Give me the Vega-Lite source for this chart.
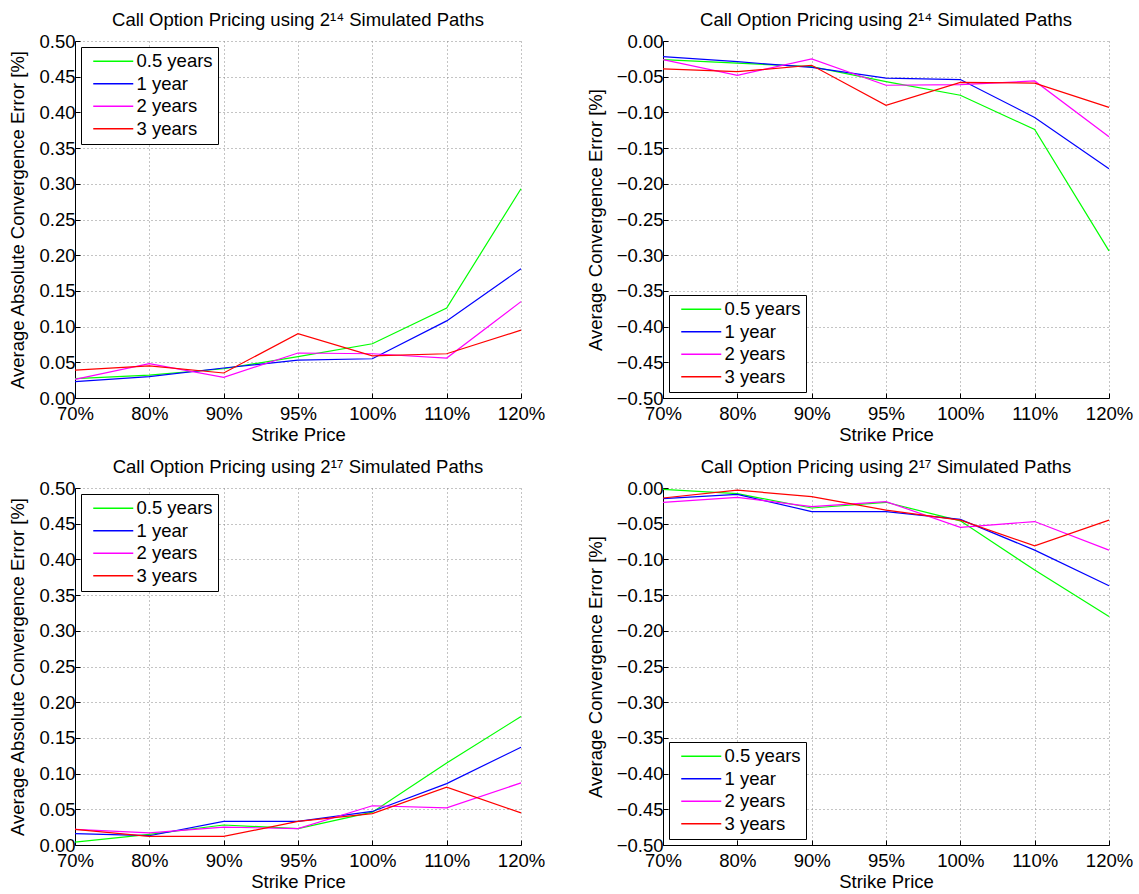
{
  "$schema": "https://vega.github.io/schema/vega-lite/v6.json",
  "padding": {"left": 8, "top": 10, "right": 5, "bottom": 5},
  "config": {
    "font": "Liberation Sans",
    "view": {"stroke": null},
    "axis": {"domainColor": "black", "domainWidth": 1, "tickColor": "black", "labelColor": "black", "titleColor": "black", "labelFontSize": 18.5, "titleFontSize": 18.5, "titleFontWeight": "normal", "grid": true, "gridColor": "#888", "gridDash": [1, 3], "tickSize": -5},
    "axisY": {"titlePadding": 11, "labelPadding": 5},
    "axisX": {"titlePadding": 3, "labelPadding": 11, "labelAngle": 0},
    "title": {"fontSize": 18.5, "fontWeight": "normal", "color": "black", "offset": 3},
    "legend": {"title": null, "strokeColor": "black", "fillColor": "white", "padding": 5, "offset": 6, "labelFontSize": 18.5, "labelColor": "black", "symbolType": "M-0.4,0H7.6", "symbolSize": 100, "symbolStrokeWidth": 1.5, "labelOffset": 32, "rowPadding": 3.5}
  },
  "data": {"values": [
    {"p":"TL","k":"70%","s":"0.5 years","v":0.027},{"p":"TL","k":"80%","s":"0.5 years","v":0.032},{"p":"TL","k":"90%","s":"0.5 years","v":0.041},{"p":"TL","k":"95%","s":"0.5 years","v":0.058},{"p":"TL","k":"100%","s":"0.5 years","v":0.076},{"p":"TL","k":"110%","s":"0.5 years","v":0.126},{"p":"TL","k":"120%","s":"0.5 years","v":0.293},
    {"p":"TL","k":"70%","s":"1 year","v":0.023},{"p":"TL","k":"80%","s":"1 year","v":0.030},{"p":"TL","k":"90%","s":"1 year","v":0.042},{"p":"TL","k":"95%","s":"1 year","v":0.053},{"p":"TL","k":"100%","s":"1 year","v":0.055},{"p":"TL","k":"110%","s":"1 year","v":0.108},{"p":"TL","k":"120%","s":"1 year","v":0.181},
    {"p":"TL","k":"70%","s":"2 years","v":0.026},{"p":"TL","k":"80%","s":"2 years","v":0.048},{"p":"TL","k":"90%","s":"2 years","v":0.029},{"p":"TL","k":"95%","s":"2 years","v":0.063},{"p":"TL","k":"100%","s":"2 years","v":0.062},{"p":"TL","k":"110%","s":"2 years","v":0.056},{"p":"TL","k":"120%","s":"2 years","v":0.135},
    {"p":"TL","k":"70%","s":"3 years","v":0.039},{"p":"TL","k":"80%","s":"3 years","v":0.045},{"p":"TL","k":"90%","s":"3 years","v":0.035},{"p":"TL","k":"95%","s":"3 years","v":0.090},{"p":"TL","k":"100%","s":"3 years","v":0.059},{"p":"TL","k":"110%","s":"3 years","v":0.062},{"p":"TL","k":"120%","s":"3 years","v":0.095},
    {"p":"TR","k":"70%","s":"0.5 years","v":-0.026},{"p":"TR","k":"80%","s":"0.5 years","v":-0.031},{"p":"TR","k":"90%","s":"0.5 years","v":-0.036},{"p":"TR","k":"95%","s":"0.5 years","v":-0.057},{"p":"TR","k":"100%","s":"0.5 years","v":-0.076},{"p":"TR","k":"110%","s":"0.5 years","v":-0.124},{"p":"TR","k":"120%","s":"0.5 years","v":-0.294},
    {"p":"TR","k":"70%","s":"1 year","v":-0.022},{"p":"TR","k":"80%","s":"1 year","v":-0.029},{"p":"TR","k":"90%","s":"1 year","v":-0.037},{"p":"TR","k":"95%","s":"1 year","v":-0.052},{"p":"TR","k":"100%","s":"1 year","v":-0.054},{"p":"TR","k":"110%","s":"1 year","v":-0.107},{"p":"TR","k":"120%","s":"1 year","v":-0.179},
    {"p":"TR","k":"70%","s":"2 years","v":-0.026},{"p":"TR","k":"80%","s":"2 years","v":-0.048},{"p":"TR","k":"90%","s":"2 years","v":-0.025},{"p":"TR","k":"95%","s":"2 years","v":-0.062},{"p":"TR","k":"100%","s":"2 years","v":-0.061},{"p":"TR","k":"110%","s":"2 years","v":-0.056},{"p":"TR","k":"120%","s":"2 years","v":-0.134},
    {"p":"TR","k":"70%","s":"3 years","v":-0.039},{"p":"TR","k":"80%","s":"3 years","v":-0.043},{"p":"TR","k":"90%","s":"3 years","v":-0.034},{"p":"TR","k":"95%","s":"3 years","v":-0.090},{"p":"TR","k":"100%","s":"3 years","v":-0.058},{"p":"TR","k":"110%","s":"3 years","v":-0.059},{"p":"TR","k":"120%","s":"3 years","v":-0.093},
    {"p":"BL","k":"70%","s":"0.5 years","v":0.004},{"p":"BL","k":"80%","s":"0.5 years","v":0.015},{"p":"BL","k":"90%","s":"0.5 years","v":0.028},{"p":"BL","k":"95%","s":"0.5 years","v":0.023},{"p":"BL","k":"100%","s":"0.5 years","v":0.046},{"p":"BL","k":"110%","s":"0.5 years","v":0.115},{"p":"BL","k":"120%","s":"0.5 years","v":0.180},
    {"p":"BL","k":"70%","s":"1 year","v":0.016},{"p":"BL","k":"80%","s":"1 year","v":0.013},{"p":"BL","k":"90%","s":"1 year","v":0.033},{"p":"BL","k":"95%","s":"1 year","v":0.033},{"p":"BL","k":"100%","s":"1 year","v":0.047},{"p":"BL","k":"110%","s":"1 year","v":0.086},{"p":"BL","k":"120%","s":"1 year","v":0.137},
    {"p":"BL","k":"70%","s":"2 years","v":0.022},{"p":"BL","k":"80%","s":"2 years","v":0.017},{"p":"BL","k":"90%","s":"2 years","v":0.025},{"p":"BL","k":"95%","s":"2 years","v":0.023},{"p":"BL","k":"100%","s":"2 years","v":0.055},{"p":"BL","k":"110%","s":"2 years","v":0.052},{"p":"BL","k":"120%","s":"2 years","v":0.087},
    {"p":"BL","k":"70%","s":"3 years","v":0.022},{"p":"BL","k":"80%","s":"3 years","v":0.012},{"p":"BL","k":"90%","s":"3 years","v":0.012},{"p":"BL","k":"95%","s":"3 years","v":0.033},{"p":"BL","k":"100%","s":"3 years","v":0.044},{"p":"BL","k":"110%","s":"3 years","v":0.081},{"p":"BL","k":"120%","s":"3 years","v":0.045},
    {"p":"BR","k":"70%","s":"0.5 years","v":-0.002},{"p":"BR","k":"80%","s":"0.5 years","v":-0.008},{"p":"BR","k":"90%","s":"0.5 years","v":-0.028},{"p":"BR","k":"95%","s":"0.5 years","v":-0.020},{"p":"BR","k":"100%","s":"0.5 years","v":-0.046},{"p":"BR","k":"110%","s":"0.5 years","v":-0.115},{"p":"BR","k":"120%","s":"0.5 years","v":-0.180},
    {"p":"BR","k":"70%","s":"1 year","v":-0.015},{"p":"BR","k":"80%","s":"1 year","v":-0.009},{"p":"BR","k":"90%","s":"1 year","v":-0.033},{"p":"BR","k":"95%","s":"1 year","v":-0.033},{"p":"BR","k":"100%","s":"1 year","v":-0.044},{"p":"BR","k":"110%","s":"1 year","v":-0.087},{"p":"BR","k":"120%","s":"1 year","v":-0.137},
    {"p":"BR","k":"70%","s":"2 years","v":-0.020},{"p":"BR","k":"80%","s":"2 years","v":-0.013},{"p":"BR","k":"90%","s":"2 years","v":-0.026},{"p":"BR","k":"95%","s":"2 years","v":-0.019},{"p":"BR","k":"100%","s":"2 years","v":-0.055},{"p":"BR","k":"110%","s":"2 years","v":-0.047},{"p":"BR","k":"120%","s":"2 years","v":-0.087},
    {"p":"BR","k":"70%","s":"3 years","v":-0.014},{"p":"BR","k":"80%","s":"3 years","v":-0.003},{"p":"BR","k":"90%","s":"3 years","v":-0.012},{"p":"BR","k":"95%","s":"3 years","v":-0.031},{"p":"BR","k":"100%","s":"3 years","v":-0.045},{"p":"BR","k":"110%","s":"3 years","v":-0.081},{"p":"BR","k":"120%","s":"3 years","v":-0.045}
  ]},
  "columns": 2,
  "spacing": {"row": 90, "column": 142},
  "bounds": "flush",
  "concat": [
    {
      "title": "Call Option Pricing using 2¹⁴ Simulated Paths",
      "width": 446, "height": 357,
      "transform": [{"filter": "datum.p === 'TL'"}],
      "mark": {"type": "line", "strokeWidth": 1.2},
      "encoding": {
        "x": {"field": "k", "type": "ordinal", "sort": ["70%","80%","90%","95%","100%","110%","120%"], "scale": {"type": "point", "padding": 0}, "axis": {"title": "Strike Price", "grid": true}},
        "y": {"field": "v", "type": "quantitative", "scale": {"domain": [0, 0.5], "nice": false}, "axis": {"title": "Average Absolute Convergence Error [%]", "values": [0,0.05,0.1,0.15,0.2,0.25,0.3,0.35,0.4,0.45,0.5], "format": ".2f"}},
        "color": {"field": "s", "type": "nominal", "sort": ["0.5 years","1 year","2 years","3 years"], "scale": {"domain": ["0.5 years","1 year","2 years","3 years"], "range": ["#00ff00","#0000ff","#ff00ff","#ff0000"]}, "legend": {"orient": "top-left"}}
      }
    },
    {
      "title": "Call Option Pricing using 2¹⁴ Simulated Paths",
      "width": 446, "height": 357,
      "transform": [{"filter": "datum.p === 'TR'"}],
      "mark": {"type": "line", "strokeWidth": 1.2},
      "encoding": {
        "x": {"field": "k", "type": "ordinal", "sort": ["70%","80%","90%","95%","100%","110%","120%"], "scale": {"type": "point", "padding": 0}, "axis": {"title": "Strike Price", "grid": true}},
        "y": {"field": "v", "type": "quantitative", "scale": {"domain": [-0.5, 0], "nice": false}, "axis": {"title": "Average Convergence Error [%]", "values": [0,-0.05,-0.1,-0.15,-0.2,-0.25,-0.3,-0.35,-0.4,-0.45,-0.5], "format": ".2f"}},
        "color": {"field": "s", "type": "nominal", "sort": ["0.5 years","1 year","2 years","3 years"], "scale": {"domain": ["0.5 years","1 year","2 years","3 years"], "range": ["#00ff00","#0000ff","#ff00ff","#ff0000"]}, "legend": {"orient": "bottom-left"}}
      }
    },
    {
      "title": "Call Option Pricing using 2¹⁷ Simulated Paths",
      "width": 446, "height": 357,
      "transform": [{"filter": "datum.p === 'BL'"}],
      "mark": {"type": "line", "strokeWidth": 1.2},
      "encoding": {
        "x": {"field": "k", "type": "ordinal", "sort": ["70%","80%","90%","95%","100%","110%","120%"], "scale": {"type": "point", "padding": 0}, "axis": {"title": "Strike Price", "grid": true}},
        "y": {"field": "v", "type": "quantitative", "scale": {"domain": [0, 0.5], "nice": false}, "axis": {"title": "Average Absolute Convergence Error [%]", "values": [0,0.05,0.1,0.15,0.2,0.25,0.3,0.35,0.4,0.45,0.5], "format": ".2f"}},
        "color": {"field": "s", "type": "nominal", "sort": ["0.5 years","1 year","2 years","3 years"], "scale": {"domain": ["0.5 years","1 year","2 years","3 years"], "range": ["#00ff00","#0000ff","#ff00ff","#ff0000"]}, "legend": {"orient": "top-left"}}
      }
    },
    {
      "title": "Call Option Pricing using 2¹⁷ Simulated Paths",
      "width": 446, "height": 357,
      "transform": [{"filter": "datum.p === 'BR'"}],
      "mark": {"type": "line", "strokeWidth": 1.2},
      "encoding": {
        "x": {"field": "k", "type": "ordinal", "sort": ["70%","80%","90%","95%","100%","110%","120%"], "scale": {"type": "point", "padding": 0}, "axis": {"title": "Strike Price", "grid": true}},
        "y": {"field": "v", "type": "quantitative", "scale": {"domain": [-0.5, 0], "nice": false}, "axis": {"title": "Average Convergence Error [%]", "values": [0,-0.05,-0.1,-0.15,-0.2,-0.25,-0.3,-0.35,-0.4,-0.45,-0.5], "format": ".2f"}},
        "color": {"field": "s", "type": "nominal", "sort": ["0.5 years","1 year","2 years","3 years"], "scale": {"domain": ["0.5 years","1 year","2 years","3 years"], "range": ["#00ff00","#0000ff","#ff00ff","#ff0000"]}, "legend": {"orient": "bottom-left"}}
      }
    }
  ]
}
